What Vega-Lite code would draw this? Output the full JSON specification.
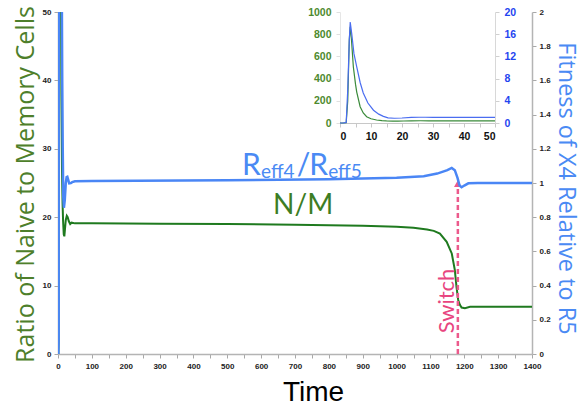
{
  "$schema": "https://vega.github.io/schema/vega-lite/v6.json",
  "width": 474,
  "height": 342,
  "autosize": {"type": "none"},
  "padding": {"left": 58, "top": 12, "right": 52, "bottom": 53},
  "background": "white",
  "config": {
    "view": {"stroke": null},
    "axis": {
      "grid": false,
      "labelFont": "Liberation Sans",
      "labelFontWeight": "bold",
      "labelFontSize": 8,
      "labelColor": "#222222",
      "labelOverlap": false,
      "domainColor": "#b4b4b4",
      "domainWidth": 1.5,
      "tickColor": "#a8a8a8",
      "tickSize": 4,
      "titleFontWeight": "normal"
    }
  },
  "datasets": {
    "green": [
      {"t": 0, "v": 0}, {"t": 1, "v": 0}, {"t": 2, "v": 2}, {"t": 2.5, "v": 200}, {"t": 3, "v": 750},
      {"t": 3.3, "v": 867}, {"t": 3.7, "v": 750}, {"t": 4.3, "v": 507}, {"t": 5, "v": 350}, {"t": 5.4, "v": 279},
      {"t": 6.5, "v": 147}, {"t": 7.5, "v": 90}, {"t": 8.6, "v": 57}, {"t": 10, "v": 38}, {"t": 11.8, "v": 27},
      {"t": 13.5, "v": 22}, {"t": 15, "v": 19.5}, {"t": 17, "v": 17.5}, {"t": 18.7, "v": 17.2}, {"t": 20.5, "v": 18.2},
      {"t": 23, "v": 19.6}, {"t": 26, "v": 20.2}, {"t": 28.6, "v": 20.0}, {"t": 32, "v": 19.4}, {"t": 36, "v": 19.0},
      {"t": 40, "v": 19.2}, {"t": 45, "v": 19.15}, {"t": 50, "v": 19.1}, {"t": 100, "v": 19.1}, {"t": 300, "v": 19.05},
      {"t": 500, "v": 19.0}, {"t": 700, "v": 18.9}, {"t": 900, "v": 18.75}, {"t": 1000, "v": 18.6}, {"t": 1050, "v": 18.45},
      {"t": 1090, "v": 18.2}, {"t": 1110, "v": 18.0}, {"t": 1128, "v": 17.6}, {"t": 1148, "v": 16.4}, {"t": 1163, "v": 14.7},
      {"t": 1172, "v": 12.3}, {"t": 1177, "v": 9.8}, {"t": 1182, "v": 7.9}, {"t": 1187, "v": 7.2}, {"t": 1192, "v": 6.8},
      {"t": 1202, "v": 6.7}, {"t": 1217, "v": 6.9}, {"t": 1250, "v": 6.9}, {"t": 1400, "v": 6.9}
    ],
    "blue": [
      {"t": 0, "v": 0}, {"t": 1, "v": 0}, {"t": 2, "v": 0.1}, {"t": 2.5, "v": 6}, {"t": 3, "v": 15},
      {"t": 3.3, "v": 18.2}, {"t": 3.8, "v": 16}, {"t": 4.5, "v": 12.5}, {"t": 5.4, "v": 10.1}, {"t": 6.5, "v": 7.3},
      {"t": 7.5, "v": 5.4}, {"t": 9, "v": 3.6}, {"t": 10.8, "v": 2.3}, {"t": 12.5, "v": 1.6}, {"t": 14, "v": 1.2},
      {"t": 15.5, "v": 0.92}, {"t": 17.5, "v": 0.855}, {"t": 20, "v": 0.9}, {"t": 23, "v": 1.0}, {"t": 25.5, "v": 1.035},
      {"t": 27.5, "v": 1.037}, {"t": 30, "v": 1.02}, {"t": 33, "v": 0.998}, {"t": 38, "v": 1.0}, {"t": 42, "v": 1.005},
      {"t": 50, "v": 1.01}, {"t": 100, "v": 1.012}, {"t": 500, "v": 1.016}, {"t": 800, "v": 1.022}, {"t": 1000, "v": 1.03},
      {"t": 1080, "v": 1.04}, {"t": 1120, "v": 1.055}, {"t": 1150, "v": 1.075}, {"t": 1163, "v": 1.088}, {"t": 1172, "v": 1.075},
      {"t": 1180, "v": 1.03}, {"t": 1186, "v": 0.985}, {"t": 1192, "v": 0.975}, {"t": 1200, "v": 0.985}, {"t": 1212, "v": 0.998},
      {"t": 1240, "v": 1.0}, {"t": 1400, "v": 1.0}
    ]
  },
  "layer": [
    {
      "layer": [
        {
          "encoding": {
            "x": {
              "field": "t", "type": "quantitative",
              "scale": {"domain": [0, 1400], "nice": false, "zero": false},
              "axis": {
                "orient": "bottom",
                "values": [0, 50, 100, 150, 200, 250, 300, 350, 400, 450, 500, 550, 600, 650, 700, 750, 800, 850, 900, 950, 1000, 1050, 1100, 1150, 1200, 1250, 1300, 1350, 1400],
                "format": "d",
                "labelExpr": "datum.value % 100 === 0 ? datum.label : ''",
                "labelOverlap": false,
                "labelFlush": false,
                "labelPadding": 4,
                "title": "Time",
                "titleFont": "Liberation Sans",
                "titleFontSize": 28,
                "titleColor": "#000000",
                "titleX": 255,
                "titleY": 46,
                "titleAlign": "center",
                "titleBaseline": "alphabetic",
                "titleAngle": 0
              }
            },
            "y": {
              "field": "v", "type": "quantitative",
              "scale": {"domain": [0, 50], "nice": false},
              "axis": {
                "orient": "left",
                "values": [0, 10, 20, 30, 40, 50],
                "labelOverlap": false,
                "labelPadding": 3,
                "title": "Ratio of Naive to Memory Cells",
                "titleFont": "Open Sans",
                "titleFontSize": 25,
                "titleColor": "#4e7f2b",
                "titleAngle": 270,
                "titleX": -25,
                "titleY": 172,
                "titleAlign": "center",
                "titleBaseline": "alphabetic"
              }
            }
          },
          "layer": [
            {
              "data": {"name": "green"},
              "mark": {"type": "line", "color": "#1f7a1f", "strokeWidth": 2, "clip": true}
            },
            {
              "data": {"values": [{"t": 1181, "v": 0, "v2": 24.3}]},
              "mark": {"type": "rule", "color": "#ec5a8c", "strokeWidth": 2.5, "strokeDash": [5, 3]},
              "encoding": {"y2": {"field": "v2"}}
            },
            {
              "data": {"values": [{"t": 1181, "v": 24.9}]},
              "mark": {"type": "point", "shape": "triangle-up", "filled": true, "color": "#ec5a8c", "size": 60, "opacity": 1}
            },
            {
              "data": {"values": [{"t": 1149, "v": 7.75, "s": "Switch"}]},
              "mark": {"type": "text", "font": "Lato", "fontSize": 22, "color": "#e8457f", "angle": 270, "align": "center", "baseline": "middle"},
              "encoding": {"text": {"field": "s"}}
            },
            {
              "data": {"values": [{"t": 724, "v": 20.5, "s": "N/M"}]},
              "mark": {"type": "text", "font": "Lato", "fontSize": 28, "color": "#3d7d24", "align": "center", "baseline": "alphabetic"},
              "encoding": {"text": {"field": "s"}}
            },
            {
              "data": {"values": [{"s": "R", "t": 543.5, "v": 26.2}, {"s": "/", "t": 705, "v": 26.2}, {"s": "R", "t": 742, "v": 26.2}]},
              "mark": {"type": "text", "font": "Lato", "fontSize": 30, "color": "#4a8af4", "align": "left", "baseline": "alphabetic"},
              "encoding": {"text": {"field": "s"}}
            },
            {
              "data": {"values": [{"s": "eff4", "t": 599.6, "v": 25.7}, {"s": "eff5", "t": 798, "v": 25.7}]},
              "mark": {"type": "text", "font": "Lato", "fontSize": 19, "color": "#4a8af4", "align": "left", "baseline": "alphabetic"},
              "encoding": {"text": {"field": "s"}}
            }
          ]
        },
        {
          "data": {"name": "blue"},
          "mark": {"type": "line", "color": "#4a86f5", "strokeWidth": 2.5, "clip": true},
          "encoding": {
            "x": {
              "field": "t", "type": "quantitative",
              "scale": {"domain": [0, 1400], "nice": false, "zero": false},
              "axis": {
                "orient": "bottom",
                "values": [0, 50, 100, 150, 200, 250, 300, 350, 400, 450, 500, 550, 600, 650, 700, 750, 800, 850, 900, 950, 1000, 1050, 1100, 1150, 1200, 1250, 1300, 1350, 1400],
                "format": "d",
                "labelExpr": "datum.value % 100 === 0 ? datum.label : ''",
                "labelOverlap": false,
                "labelFlush": false,
                "labelPadding": 4,
                "title": "Time",
                "titleFont": "Liberation Sans",
                "titleFontSize": 28,
                "titleColor": "#000000",
                "titleX": 255,
                "titleY": 46,
                "titleAlign": "center",
                "titleBaseline": "alphabetic",
                "titleAngle": 0
              }
            },
            "y": {
              "field": "v", "type": "quantitative",
              "scale": {"domain": [0, 2], "nice": false},
              "axis": {
                "orient": "right",
                "values": [0, 0.2, 0.4, 0.6, 0.8, 1, 1.2, 1.4, 1.6, 1.8, 2],
                "format": "~g",
                "labelOverlap": false,
                "labelPadding": 3,
                "title": "Fitness of X4 Relative to R5",
                "titleFont": "Open Sans",
                "titleFontSize": 23.5,
                "titleColor": "#4a8af4",
                "titleAngle": 90,
                "titleX": 26,
                "titleY": 176,
                "titleAlign": "center",
                "titleBaseline": "alphabetic"
              }
            }
          }
        }
      ],
      "resolve": {"scale": {"y": "independent"}}
    },
    {
      "encoding": {
        "x": {
          "field": "t", "type": "quantitative",
          "scale": {"domain": [0, 50], "range": [282, 437], "nice": false, "zero": false},
          "axis": {
            "orient": "bottom",
            "offset": -231,
            "values": [0, 5, 10, 15, 20, 25, 30, 35, 40, 45, 50],
            "labelExpr": "datum.value % 10 === 0 ? datum.label : ''",
            "labelOverlap": false,
            "labelFontSize": 10.5,
            "labelColor": "#111111",
            "labelPadding": 4,
            "domainColor": "#c8c8c8",
            "domainWidth": 1,
            "tickColor": "#c8c8c8",
            "title": null
          }
        }
      },
      "layer": [
        {
          "data": {"name": "green"},
          "transform": [{"filter": "datum.t <= 50"}],
          "mark": {"type": "line", "color": "#3a8a3a", "strokeWidth": 1.2},
          "encoding": {
            "y": {
              "field": "v", "type": "quantitative",
              "scale": {"domain": [0, 1000], "range": [111, 0], "nice": false},
              "axis": {
                "orient": "left",
                "offset": -282,
                "values": [0, 200, 400, 600, 800, 1000],
                "format": "d",
                "labelFontSize": 10.5,
                "labelColor": "#4d8a2e",
                "labelPadding": 5,
                "domainColor": "#e6e6e6",
                "domainWidth": 1,
                "tickColor": "#e0e0e0",
                "title": null
              }
            }
          }
        },
        {
          "data": {"name": "blue"},
          "transform": [{"filter": "datum.t <= 50"}],
          "mark": {"type": "line", "color": "#4a6df0", "strokeWidth": 1.2},
          "encoding": {
            "y": {
              "field": "v", "type": "quantitative",
              "scale": {"domain": [0, 20], "range": [111, 0], "nice": false},
              "axis": {
                "orient": "right",
                "offset": -37,
                "values": [0, 4, 8, 12, 16, 20],
                "labelFontSize": 10.5,
                "labelColor": "#1f45f0",
                "labelPadding": 5,
                "domainColor": "#d8d8d8",
                "domainWidth": 1,
                "tickColor": "#d0d0d0",
                "title": null
              }
            }
          }
        }
      ],
      "resolve": {"scale": {"y": "independent"}}
    }
  ],
  "resolve": {"scale": {"x": "independent", "y": "independent"}}
}
